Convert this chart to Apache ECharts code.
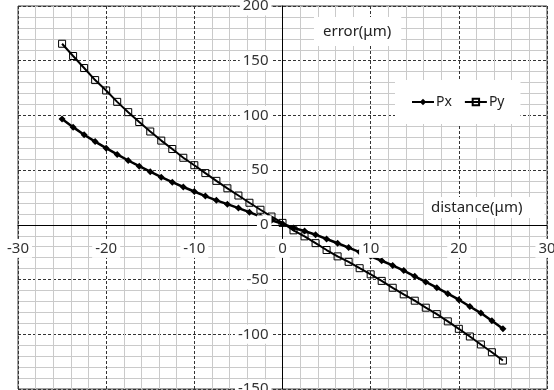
<!DOCTYPE html>
<html>
<head>
<meta charset="utf-8">
<script src="https://cdn.jsdelivr.net/npm/echarts@6/dist/echarts.min.js"></script>
<style>
  html, body { margin: 0; padding: 0; background: #fff; }
  #chart { width: 554px; height: 390px; }
</style>
</head>
<body>
<div id="chart"></div>
<script>
// distance (um) sampled every 1.25
const distance = [-25, -23.75, -22.5, -21.25, -20, -18.75, -17.5, -16.25, -15, -13.75,
  -12.5, -11.25, -10, -8.75, -7.5, -6.25, -5, -3.75, -2.5, -1.25, 0,
  1.25, 2.5, 3.75, 5, 6.25, 7.5, 8.75, 10, 11.25, 12.5,
  13.75, 15, 16.25, 17.5, 18.75, 20, 21.25, 22.5, 23.75, 25];

const px = [96.7, 89.3, 82.4, 76.1, 70.1, 64.4, 58.8, 53.6, 48.6, 43.6,
  39.0, 34.6, 30.5, 26.3, 22.4, 18.9, 15.3, 11.6, 7.5, 4.2, 1.0,
  -2.8, -5.6, -9.0, -12.9, -16.8, -20.8, -24.9, -28.7, -32.8, -37.1,
  -41.8, -47.0, -52.2, -57.4, -62.9, -68.4, -74.6, -80.6, -87.6, -95.0];

const py = [165.5, 154.3, 143.3, 132.3, 122.8, 112.4, 103.0, 94.0, 85.3, 77.0,
  69.3, 61.3, 54.5, 47.3, 40.2, 33.4, 26.8, 20.2, 13.8, 7.6, 1.8,
  -5.0, -10.5, -16.7, -23.0, -28.8, -33.8, -39.6, -45.2, -51.2, -57.5,
  -63.5, -69.3, -75.7, -81.6, -88.2, -95.0, -102.0, -109.3, -116.4, -124.0];

const xTicks = [-30, -20, -10, 0, 10, 20, 30];
const yTicks = [-150, -100, -50, 0, 50, 100, 150, 200];

const FONT = '"Noto Sans", "Open Sans", sans-serif';

const xRange = { min: xTicks[0], max: xTicks[xTicks.length - 1], interval: xTicks[1] - xTicks[0] };
const yRange = { min: yTicks[0], max: yTicks[yTicks.length - 1], interval: yTicks[1] - yTicks[0] };

const GRID = { left: 18, right: 7, top: 6, bottom: 1 };

// axes that only draw the grid (under the series)
function gridAxis(range) {
  return {
    type: 'value', min: range.min, max: range.max, interval: range.interval,
    axisLine: { show: false, onZero: false }, axisTick: { show: false }, axisLabel: { show: false },
    splitLine: { show: true, lineStyle: { color: '#333', width: 1, type: [3, 2] } },
    minorTick: { show: false, splitNumber: 5 },
    minorSplitLine: { show: true, lineStyle: { color: '#cacaca', width: 1 } },
    z: 0
  };
}

// axes that draw the zero lines and the labels (over the series);
// moved onto the zero line with offset
function labelAxis(range, pos, offset) {
  return {
    type: 'value', position: pos, offset: offset,
    min: range.min, max: range.max, interval: range.interval,
    axisLine: { show: true, onZero: false, lineStyle: { color: '#000', width: 1 } },
    axisTick: { show: false },
    splitLine: { show: false },
    axisLabel: {
      color: '#333', fontSize: 15, fontFamily: FONT,
      margin: pos === 'left' ? 11 : 14,
      backgroundColor: '#fff', padding: [2, 3]
    },
    z: 5
  };
}

const chart = echarts.init(document.getElementById('chart'));

function build(xOff, yOff) {
  return {
    animation: false,
    backgroundColor: '#fff',
    grid: Object.assign({
      outerBoundsMode: 'none', containLabel: false,
      show: true, borderColor: '#404040', borderWidth: 1, backgroundColor: 'transparent'
    }, GRID),
    xAxis: [gridAxis(xRange), labelAxis(xRange, 'bottom', xOff)],
    yAxis: [gridAxis(yRange), labelAxis(yRange, 'left', yOff)],
    legend: {
      left: 395, top: 80,
      padding: [15, 16],
      backgroundColor: '#fff',
      itemWidth: 22, itemHeight: 8, itemGap: 12,
      textStyle: { fontSize: 14, fontFamily: FONT, color: '#222', padding: [0, 0, 0, -3] },
      data: ['Px', 'Py']
    },
    graphic: [
      {
        type: 'text', x: 314, y: 17, z: 10,
        style: {
          text: 'error(μm)', fontSize: 15, fontFamily: FONT, fill: '#222',
          backgroundColor: '#fff', padding: [7, 10, 7, 9]
        }
      },
      {
        type: 'text', x: 424, y: 197, z: 10,
        style: {
          text: 'distance(μm)', fontSize: 15, fontFamily: FONT, fill: '#222',
          backgroundColor: '#fff', padding: [3, 22, 3, 7]
        }
      }
    ],
    series: [
      {
        name: 'Px', type: 'line',
        data: distance.map((d, i) => [d, px[i]]),
        symbol: 'diamond', symbolSize: 7,
        itemStyle: { color: '#000' },
        lineStyle: { color: '#000', width: 2.5 },
        z: 2
      },
      {
        name: 'Py', type: 'line',
        data: distance.map((d, i) => [d, py[i]]),
        symbol: 'rect', symbolSize: 7,
        itemStyle: { color: 'none', borderColor: '#000', borderWidth: 1 },
        lineStyle: { color: '#000', width: 2 },
        z: 2
      }
    ]
  };
}

chart.setOption(build(0, 0));
// find where 0,0 lands and shift the label axes onto it
const origin = chart.convertToPixel({ gridIndex: 0 }, [0, 0]);
const bottomPx = 390 - GRID.bottom;
chart.setOption(build(origin[1] - bottomPx, GRID.left - origin[0]));
</script>
</body>
</html>
